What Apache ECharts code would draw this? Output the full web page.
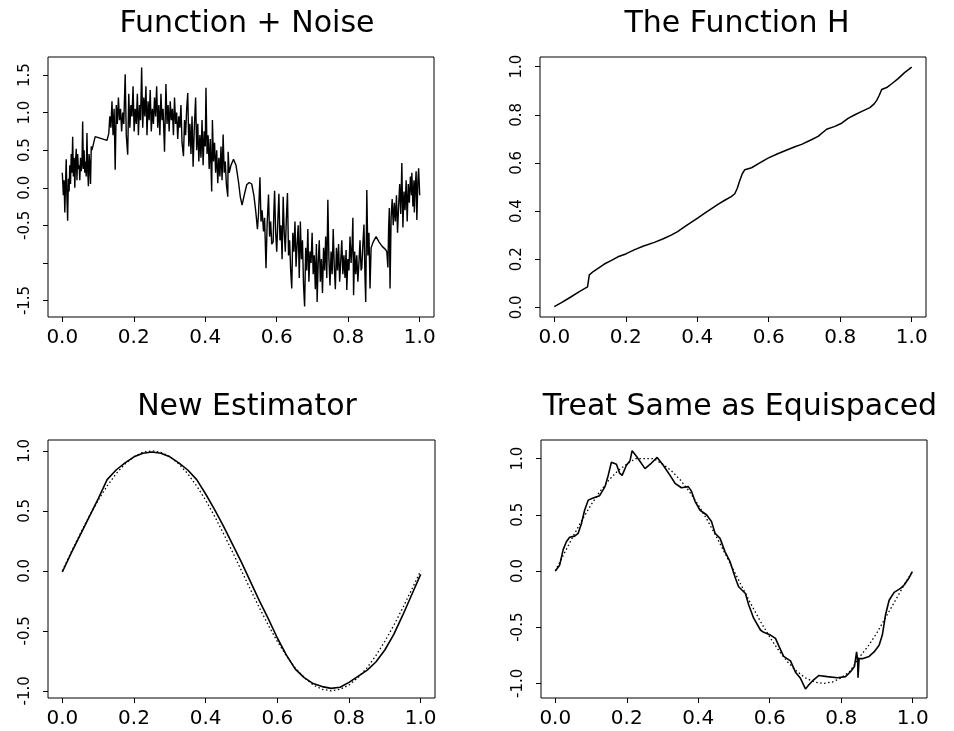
<!DOCTYPE html>
<html><head><meta charset="utf-8">
<script src="https://cdn.jsdelivr.net/npm/echarts@6/dist/echarts.min.js"></script>
<style>html,body{margin:0;padding:0;background:#fff}#c{width:954px;height:731px}</style>
</head><body><div id="c"></div>
<script>
// ---------- texts & ticks ----------
const panelTitles = ["Function + Noise", "The Function H", "New Estimator", "Treat Same as Equispaced"];
const xTicks = [0, 0.2, 0.4, 0.6, 0.8, 1.0];
const y1Ticks = [-1.5, -1.0, -0.5, 0, 0.5, 1.0, 1.5];
const y1Labels = [-1.5, -0.5, 0, 0.5, 1.0, 1.5];
const y2Ticks = [0, 0.2, 0.4, 0.6, 0.8, 1.0];
const y34Ticks = [-1.0, -0.5, 0, 0.5, 1.0];

// ---------- panel 1: function + noise (x, y) ----------
const noisePts = [
[0.000,0.20],[0.003,-0.10],[0.005,0.10],[0.007,-0.33],[0.009,0.05],[0.011,0.38],[0.013,-0.15],[0.015,-0.44],
[0.017,0.12],[0.019,-0.05],[0.021,0.30],[0.023,0.05],[0.025,0.45],[0.027,0.20],[0.029,0.68],[0.031,0.15],
[0.033,0.40],[0.035,0.00],[0.037,0.35],[0.039,0.52],[0.041,0.10],[0.043,0.45],[0.045,0.25],[0.047,0.30],
[0.049,0.10],[0.051,0.40],[0.053,0.22],[0.055,0.30],[0.057,0.88],[0.059,0.25],[0.061,0.50],[0.063,0.20],
[0.065,0.35],[0.067,0.15],[0.069,0.73],[0.071,0.25],[0.073,0.02],[0.075,0.45],[0.077,0.30],[0.079,0.05],
[0.081,0.55],[0.083,0.50],[0.092,0.68],[0.125,0.63],
[0.130,0.72],[0.133,0.95],[0.136,0.80],[0.139,1.15],[0.142,0.70],[0.145,1.05],[0.148,0.24],[0.151,1.10],
[0.154,0.85],[0.157,1.20],[0.160,0.90],[0.163,1.05],[0.166,0.75],[0.169,1.00],[0.172,0.85],[0.176,1.51],
[0.179,0.70],[0.183,0.44],[0.186,1.25],[0.189,0.80],[0.192,1.10],[0.195,0.95],[0.198,1.35],[0.201,0.75],
[0.204,1.05],[0.207,0.85],[0.210,1.25],[0.213,0.70],[0.216,1.10],[0.219,0.90],[0.222,1.60],[0.225,0.80],
[0.228,1.20],[0.231,0.95],[0.234,1.35],[0.237,0.70],[0.240,1.15],[0.243,0.90],[0.246,1.30],[0.249,0.75],
[0.252,1.05],[0.255,0.85],[0.258,1.20],[0.261,0.95],[0.264,1.35],[0.267,0.80],[0.270,1.10],[0.273,0.70],
[0.276,1.25],[0.279,0.90],[0.282,1.05],[0.286,0.48],[0.290,1.38],[0.293,0.85],[0.296,1.10],[0.299,0.75],
[0.302,1.15],[0.305,0.90],[0.308,1.05],[0.311,0.70],[0.314,1.20],[0.317,0.85],[0.320,1.00],[0.323,0.65],
[0.326,0.95],[0.329,0.80],[0.332,1.10],[0.335,0.60],[0.339,0.42],[0.342,0.90],[0.345,0.70],[0.348,1.05],
[0.351,1.26],[0.354,0.55],[0.357,0.85],[0.360,0.45],[0.363,0.95],[0.366,0.28],[0.369,0.75],[0.373,1.20],
[0.376,0.50],[0.379,0.85],[0.382,0.35],[0.385,0.70],[0.388,0.40],[0.391,0.90],[0.394,0.30],[0.397,0.75],
[0.400,0.55],[0.402,1.33],[0.405,0.45],[0.408,0.70],[0.411,0.25],[0.414,0.65],[0.418,-0.05],[0.420,0.90],
[0.423,0.35],[0.426,0.60],[0.429,0.20],[0.432,0.50],[0.435,0.06],[0.438,0.40],[0.441,0.15],[0.444,0.55],
[0.447,0.10],[0.450,0.71],[0.453,0.20],[0.456,0.35],[0.459,0.05],[0.463,-0.12],[0.464,0.48],[0.467,0.20],
[0.472,0.30],[0.479,0.38],[0.486,0.30],[0.493,0.08],[0.498,-0.12],[0.503,-0.23],[0.509,-0.10],[0.516,0.04],
[0.523,0.07],[0.530,0.05],[0.536,-0.10],[0.541,-0.30],[0.546,-0.55],[0.549,-0.35],
[0.553,0.14],[0.556,-0.45],[0.559,-0.30],[0.563,-0.58],[0.566,-0.40],[0.570,-1.07],[0.573,-0.50],[0.577,-0.09],
[0.580,-0.65],[0.583,-0.45],[0.586,-0.75],[0.590,-0.72],[0.592,-0.30],[0.594,-0.04],[0.597,-0.60],[0.600,-0.85],
[0.603,-0.45],[0.606,-0.08],[0.609,-0.70],[0.612,-0.50],[0.615,-0.95],[0.618,-0.12],[0.621,-0.60],[0.624,-0.85],
[0.627,-0.40],[0.630,-0.07],[0.633,-0.90],[0.636,-0.70],[0.639,-1.10],[0.642,-1.34],[0.645,-0.60],[0.648,-0.85],
[0.651,-0.45],[0.654,-1.05],[0.657,-0.75],[0.660,-0.50],[0.663,-1.20],[0.666,-0.45],[0.669,-0.95],[0.672,-0.70],
[0.675,-1.30],[0.678,-1.58],[0.681,-0.80],[0.684,-1.10],[0.687,-0.55],[0.690,-1.25],[0.693,-0.85],[0.696,-1.00],
[0.699,-0.60],[0.702,-1.15],[0.705,-0.90],[0.708,-1.35],[0.711,-0.75],[0.713,-1.52],[0.716,-1.00],[0.719,-0.70],
[0.722,-1.25],[0.725,-0.95],[0.728,-1.40],[0.731,-0.80],[0.734,-1.10],[0.737,-0.65],[0.740,-1.20],[0.743,-0.16],
[0.746,-0.95],[0.749,-1.30],[0.752,-0.85],[0.755,-1.15],[0.758,-0.55],[0.761,-1.05],[0.764,-1.35],[0.767,-0.80],
[0.770,-1.10],[0.773,-0.75],[0.776,-1.25],[0.779,-0.98],[0.782,-0.70],[0.785,-1.15],[0.788,-0.90],[0.791,-1.20],
[0.794,-0.83],[0.796,-1.36],[0.799,-0.95],[0.802,-1.10],[0.805,-0.65],[0.808,-1.00],[0.811,-0.75],[0.813,-0.40],
[0.815,-1.43],[0.818,-0.85],[0.821,-1.15],[0.824,-0.90],[0.827,-1.25],[0.830,-1.00],[0.833,-0.70],[0.836,-1.10],
[0.838,-1.07],[0.841,-0.75],[0.844,-0.49],[0.847,-1.20],[0.849,-1.52],[0.852,-0.03],[0.855,-0.90],[0.858,-0.60],
[0.861,-1.34],[0.864,-0.80],[0.870,-0.72],[0.878,-0.65],[0.886,-0.72],[0.895,-0.78],[0.904,-0.82],[0.908,-0.85],
[0.911,-1.06],[0.913,-0.55],[0.915,-0.27],[0.917,-1.34],[0.920,-0.40],[0.923,-0.15],[0.926,-0.50],[0.929,-0.20],
[0.932,-0.45],[0.935,-0.10],[0.938,-0.60],[0.941,-0.25],[0.944,0.05],[0.947,-0.35],[0.950,0.33],[0.953,-0.53],
[0.956,-0.05],[0.959,-0.30],[0.962,0.10],[0.965,-0.45],[0.968,0.05],[0.971,-0.20],[0.974,0.15],[0.977,-0.10],
[0.978,0.20],[0.981,-0.25],[0.984,0.10],[0.985,-0.33],[0.988,0.05],[0.990,0.22],[0.992,-0.43],[0.995,0.10],
[0.997,0.26],[1.000,-0.10]
];

// ---------- panel 2: the function H ----------
const hPts = [
[0.000,0.003],[0.020,0.020],[0.045,0.042],[0.070,0.065],[0.093,0.085],[0.096,0.090],[0.098,0.135],[0.110,0.150],
[0.140,0.180],[0.160,0.195],[0.178,0.210],[0.200,0.222],[0.225,0.240],[0.250,0.255],[0.280,0.270],[0.305,0.285],
[0.327,0.300],[0.345,0.315],[0.365,0.335],[0.385,0.355],[0.402,0.372],[0.420,0.390],[0.440,0.410],[0.460,0.430],
[0.477,0.445],[0.495,0.460],[0.505,0.472],[0.512,0.495],[0.519,0.527],[0.526,0.555],[0.533,0.572],[0.552,0.580],
[0.575,0.600],[0.598,0.620],[0.625,0.638],[0.654,0.656],[0.675,0.668],[0.692,0.677],[0.715,0.693],[0.738,0.710],
[0.762,0.740],[0.785,0.752],[0.804,0.765],[0.822,0.785],[0.841,0.800],[0.862,0.815],[0.883,0.830],[0.895,0.845],
[0.902,0.860],[0.909,0.880],[0.916,0.905],[0.930,0.913],[0.945,0.930],[0.962,0.950],[0.980,0.975],[1.000,0.998]
];

// ---------- panels 3 & 4: grid of x and the true function ----------
const xGrid = [0,0.025,0.05,0.075,0.1,0.125,0.15,0.175,0.2,0.225,0.25,0.275,0.3,0.325,0.35,0.375,0.4,0.425,0.45,0.475,
  0.5,0.525,0.55,0.575,0.6,0.625,0.65,0.675,0.7,0.725,0.75,0.775,0.8,0.825,0.85,0.875,0.9,0.925,0.95,0.975,1.0];
const trueFn3 = [0,0.156,0.309,0.454,0.588,0.707,0.809,0.891,0.951,0.988,1.0,0.988,0.951,0.891,0.809,0.707,0.588,0.454,0.309,0.156,
  0,-0.156,-0.309,-0.454,-0.588,-0.707,-0.809,-0.891,-0.951,-0.988,-1.0,-0.988,-0.951,-0.891,-0.809,-0.707,-0.588,-0.454,-0.309,-0.156,0];
const newEst = [-0.01,0.15,0.30,0.45,0.60,0.76,0.84,0.90,0.95,0.98,0.99,0.98,0.95,0.90,0.84,0.76,0.64,0.51,0.37,0.22,
  0.07,-0.09,-0.25,-0.40,-0.56,-0.70,-0.82,-0.89,-0.94,-0.965,-0.98,-0.97,-0.93,-0.88,-0.83,-0.76,-0.66,-0.53,-0.37,-0.20,-0.03];
const trueFn4 = [0,0.156,0.309,0.454,0.588,0.707,0.809,0.891,0.951,1.0,1.0,1.0,0.951,0.891,0.809,0.707,0.588,0.454,0.309,0.156,
  0,-0.156,-0.309,-0.454,-0.588,-0.707,-0.809,-0.891,-0.951,-0.988,-1.0,-0.988,-0.951,-0.891,-0.77,-0.67,-0.55,-0.41,-0.27,-0.13,0];
const equiPts = [
[0.000,0.000],[0.012,0.050],[0.022,0.190],[0.031,0.260],[0.040,0.300],[0.054,0.310],[0.064,0.335],[0.073,0.420],
[0.082,0.540],[0.092,0.630],[0.106,0.650],[0.124,0.670],[0.139,0.750],[0.148,0.850],[0.157,0.967],[0.171,0.950],
[0.180,0.870],[0.187,0.850],[0.199,0.940],[0.209,0.980],[0.215,1.070],[0.227,1.020],[0.251,0.910],[0.269,0.960],
[0.285,1.010],[0.302,0.940],[0.321,0.850],[0.335,0.780],[0.353,0.740],[0.372,0.750],[0.381,0.710],[0.391,0.620],
[0.405,0.540],[0.423,0.500],[0.437,0.440],[0.447,0.335],[0.461,0.290],[0.475,0.170],[0.489,0.083],[0.504,-0.065],
[0.513,-0.140],[0.532,-0.200],[0.541,-0.300],[0.555,-0.420],[0.574,-0.525],[0.583,-0.546],[0.602,-0.570],[0.616,-0.600],
[0.630,-0.700],[0.639,-0.760],[0.658,-0.800],[0.672,-0.900],[0.686,-0.955],[0.700,-1.050],[0.709,-1.015],[0.722,-0.970],
[0.737,-0.930],[0.761,-0.940],[0.789,-0.950],[0.812,-0.940],[0.826,-0.896],[0.837,-0.850],[0.843,-0.720],[0.846,-0.800],
[0.847,-0.950],[0.850,-0.780],[0.859,-0.780],[0.878,-0.760],[0.892,-0.720],[0.906,-0.660],[0.915,-0.570],[0.924,-0.390],
[0.934,-0.260],[0.948,-0.190],[0.966,-0.155],[0.976,-0.125],[0.990,-0.060],[0.999,-0.005]
];

// ---------- build ----------
const FONT = 'DejaVu Sans';
const zip = (xs, ys) => xs.map((x, i) => [x, ys[i]]);
const grids = [
  {left: 48, top: 57, width: 386, height: 260},
  {left: 540, top: 57, width: 386, height: 260},
  {left: 48, top: 440, width: 387, height: 258},
  {left: 541, top: 440, width: 386, height: 258}
];
const yRanges = [[-1.72, 1.74], [-0.04, 1.04], [-1.06, 1.09], [-1.13, 1.165]];
const yTickSets = [y1Ticks, y2Ticks, y34Ticks, y34Ticks];
const yLabelSets = [y1Labels, y2Ticks, y34Ticks, y34Ticks];
const titleCenters = [[242, 4], [732, 4], [242, 387], [735, 387]];

const fmt = v => (Math.abs(v) < 1e-9 ? 0 : v).toFixed(1);

const option = {
  animation: false,
  backgroundColor: '#fff',
  title: panelTitles.map((t, i) => ({
    text: t, left: titleCenters[i][0], top: titleCenters[i][1], textAlign: 'center',
    textStyle: {fontFamily: FONT, fontSize: 30, fontWeight: 'normal', color: '#000'}
  })),
  grid: grids.map(g => Object.assign({show: true, borderColor: '#000', borderWidth: 1, backgroundColor: 'transparent'}, g)),
  xAxis: grids.map((g, i) => ({
    type: 'value', gridIndex: i, min: -0.04, max: 1.04, position: 'bottom',
    axisLine: {show: false, onZero: false}, splitLine: {show: false},
    axisTick: {show: true, inside: false, length: 5, lineStyle: {color: '#000', width: 1}, customValues: xTicks},
    axisLabel: {show: true, margin: 11, color: '#000', fontFamily: FONT, fontSize: 20, customValues: xTicks, formatter: fmt}
  })),
  yAxis: grids.map((g, i) => ({
    type: 'value', gridIndex: i, min: yRanges[i][0], max: yRanges[i][1], position: 'left',
    axisLine: {show: false, onZero: false}, splitLine: {show: false},
    axisTick: {show: true, inside: false, length: 5, lineStyle: {color: '#000', width: 1}, customValues: yTickSets[i]},
    axisLabel: {show: true, rotate: 90, margin: 15, color: '#000', fontFamily: FONT, fontSize: 15, customValues: yLabelSets[i], formatter: fmt}
  })),
  series: [
    {type: 'line', xAxisIndex: 0, yAxisIndex: 0, data: noisePts, showSymbol: false, symbol: 'none',
     lineStyle: {color: '#000', width: 1.4}},
    {type: 'line', xAxisIndex: 1, yAxisIndex: 1, data: hPts, showSymbol: false, symbol: 'none',
     lineStyle: {color: '#000', width: 1.5}},
    {type: 'line', xAxisIndex: 2, yAxisIndex: 2, data: zip(xGrid, trueFn3), showSymbol: false, symbol: 'none',
     lineStyle: {color: '#000', width: 1.3, type: [1.5, 2.5]}},
    {type: 'line', xAxisIndex: 2, yAxisIndex: 2, data: zip(xGrid, newEst), showSymbol: false, symbol: 'none',
     lineStyle: {color: '#000', width: 1.6}},
    {type: 'line', xAxisIndex: 3, yAxisIndex: 3, data: zip(xGrid, trueFn4), showSymbol: false, symbol: 'none',
     lineStyle: {color: '#000', width: 1.3, type: [1.5, 2.5]}},
    {type: 'line', xAxisIndex: 3, yAxisIndex: 3, data: equiPts, showSymbol: false, symbol: 'none',
     lineStyle: {color: '#000', width: 1.6}}
  ]
};
const chart = echarts.init(document.getElementById('c'), null, {renderer: 'canvas'});
chart.setOption(option);
</script></body></html>
